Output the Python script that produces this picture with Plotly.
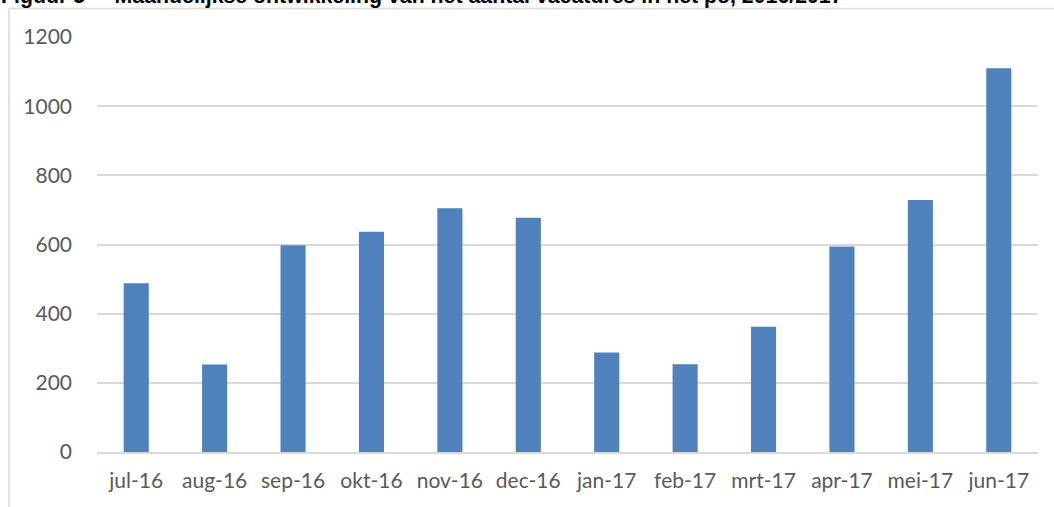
import plotly.graph_objects as go

months = ["jul-16", "aug-16", "sep-16", "okt-16", "nov-16", "dec-16",
          "jan-17", "feb-17", "mrt-17", "apr-17", "mei-17", "jun-17"]
vacatures = [488, 253, 598, 637, 705, 677, 288, 254, 362, 594, 729, 1110]
y_ticks = [0, 200, 400, 600, 800, 1000, 1200]
title_text = "Figuur 5\u00a0\u00a0\u00a0\u00a0\u00a0Maandelijkse ontwikkeling van het aantal vacatures in het po, 2016/2017"

W, H = 1054, 507
L, R, T, B = 97, 16, 37, 55
pw, ph = W - L - R, H - T - B

def px(x):
    return (x - L) / pw

def py(y):
    return (H - B - y) / ph

fig = go.Figure(go.Bar(x=months, y=vacatures, marker=dict(color="#4F81BD", line=dict(width=0)),
                       hoverinfo="x+y"))

fig.update_layout(
    width=W, height=H,
    margin=dict(l=L, r=R, t=T, b=B, pad=0),
    paper_bgcolor="white", plot_bgcolor="white",
    bargap=0.68,
    showlegend=False,
    font=dict(family="Lato, Open Sans, sans-serif", color="#595959", size=21),
    xaxis=dict(showgrid=False, showline=True, linecolor="#D9D9D9", linewidth=1.5,
               ticks="", ticklabelstandoff=9, tickfont=dict(size=21, color="#595959"),
               fixedrange=True),
    yaxis=dict(range=[0, 1200], tickvals=y_ticks, showgrid=True, gridcolor="#D9D9D9",
               gridwidth=1.5, zeroline=False, showline=False, ticks="",
               ticklabelstandoff=24, tickfont=dict(size=21, color="#595959"), fixedrange=True),
    shapes=[
        dict(type="line", xref="paper", yref="paper", x0=px(9), x1=px(9), y0=py(8.5), y1=py(H + 5),
             line=dict(color="#D9D9D9", width=1.5)),
        dict(type="line", xref="paper", yref="paper", x0=px(9), x1=px(W + 5), y0=py(8.5), y1=py(8.5),
             line=dict(color="#D9D9D9", width=1.5)),
    ],
    annotations=[
        dict(text="<b>" + title_text + "</b>", xref="paper", yref="paper",
             x=px(-1), y=py(10.5), xanchor="left", yanchor="bottom", showarrow=False,
             font=dict(family="Liberation Sans, Arial, sans-serif", size=21.3, color="black")),
    ],
)

fig.write_html("out.html", config={"displayModeBar": False},
               post_script="document.body.style.margin='0';")
